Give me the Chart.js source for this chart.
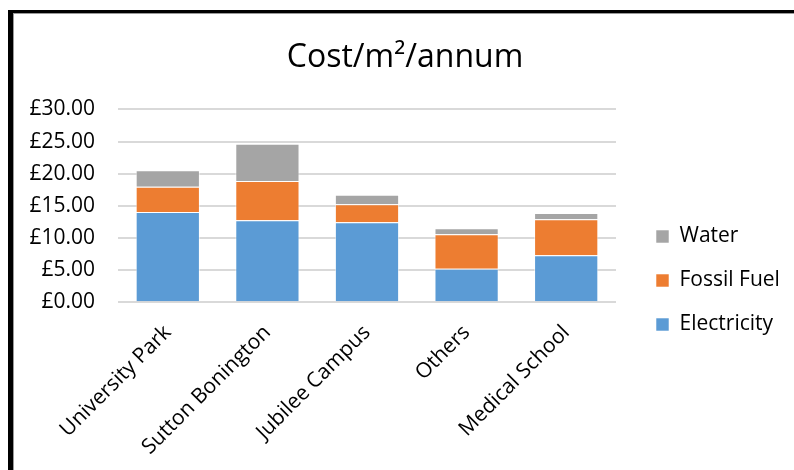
<!DOCTYPE html>
<html>
<head>
<meta charset="utf-8">
<script src="https://cdn.jsdelivr.net/npm/chart.js@4/dist/chart.umd.min.js"></script>
<style>
  html, body { margin: 0; padding: 0; background: #fff; overflow: hidden; }
  #wrap { position: relative; width: 794px; height: 470px; }
  #frame {
    position: absolute; left: 8px; top: 10px; width: 820px; height: 480px;
    border-top: 3px solid #000; border-left: 5px solid #000;
    box-shadow: inset 1px 1px 0 #9a9a9a;
    pointer-events: none;
  }
  canvas { position: absolute; left: 0; top: 0; }
</style>
</head>
<body>
<div id="wrap">
  <canvas id="chart" width="794" height="470"></canvas>
  <div id="frame"></div>
</div>
<script>
// Sites and per-site annual cost per square metre (£)
const sites = ['University Park', 'Sutton Bonington', 'Jubilee Campus', 'Others', 'Medical School'];
const electricity = [14.04, 12.75, 12.44, 5.22, 7.31];
const fossilFuel  = [3.93, 6.11, 2.79, 5.35, 5.59];
const water       = [2.55, 5.79, 1.50, 0.93, 0.98];
const yTicks = [0, 5, 10, 15, 20, 25, 30];

const FONT = "'Open Sans', 'DejaVu Sans', sans-serif";

// Moves the title over the plot centre and the legend into the right-hand margin
const boxPlacer = {
  id: 'boxPlacer',
  afterLayout(chart) {
    const t = chart.titleBlock;
    if (t) { t.left += 22; t.right += 22; }
    const lg = chart.legend;
    if (lg) {
      const w = lg.right - lg.left;
      lg.left = 633;
      lg.right = lg.left + w;
      lg.top = 91;
      lg.bottom = 470;
    }
  }
};

new Chart(document.getElementById('chart'), {
  type: 'bar',
  data: {
    labels: sites,
    datasets: [
      { label: 'Electricity', data: electricity, backgroundColor: '#5B9BD5' },
      { label: 'Fossil Fuel', data: fossilFuel, backgroundColor: '#ED7D31' },
      { label: 'Water', data: water, backgroundColor: '#A5A5A5' }
    ]
  },
  options: {
    responsive: false,
    animation: false,
    layout: { padding: { left: 0, right: 28, top: 0, bottom: 0 } },
    datasets: {
      bar: {
        categoryPercentage: 1,
        barPercentage: 0.645,
        borderColor: 'rgba(255,255,255,0.55)',
        borderWidth: 1
      }
    },
    plugins: {
      title: {
        display: true,
        text: 'Cost/m²/annum',
        color: '#000',
        font: { family: FONT, size: 32, weight: 'normal' },
        padding: { top: 39, bottom: 32 }
      },
      legend: {
        position: 'right',
        reverse: true,
        maxWidth: 150,
        labels: {
          color: '#000',
          font: { family: FONT, size: 21 },
          boxWidth: 13,
          boxHeight: 13,
          padding: 23
        }
      },
      tooltip: { enabled: false }
    },
    scales: {
      x: {
        stacked: true,
        grid: { display: false },
        border: { display: false },
        ticks: {
          color: '#000',
          font: { family: FONT, size: 21 },
          minRotation: 45,
          maxRotation: 45,
          padding: 10
        },
        afterFit(scale) { scale.height = 167.7; }
      },
      y: {
        stacked: true,
        min: 0,
        max: 30,
        grid: { color: '#D9D9D9', lineWidth: 2, drawTicks: false },
        border: { display: false },
        ticks: {
          color: '#000',
          font: { family: FONT, size: 21 },
          padding: 23,
          callback: v => '£' + Number(v).toFixed(2)
        },
        afterBuildTicks(scale) { scale.ticks = yTicks.map(v => ({ value: v })); },
        afterFit(scale) { scale.width = 118; }
      }
    }
  },
  plugins: [boxPlacer]
});
</script>
</body>
</html>
